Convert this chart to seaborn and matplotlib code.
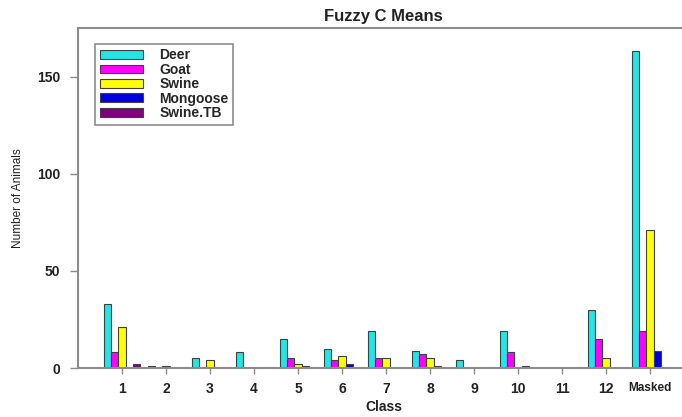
import matplotlib
matplotlib.use("Agg")
import matplotlib.pyplot as plt
import seaborn as sns
import pandas as pd

classes = ["1", "2", "3", "4", "5", "6", "7", "8", "9", "10", "11", "12", "Masked"]
deer     = [33, 1, 5, 8, 15, 10, 19, 9, 4, 19, 0, 30, 163]
goat     = [8, 0, 0, 0, 5, 4, 5, 7, 0, 8, 0, 15, 19]
swine    = [21, 1, 4, 0, 2, 6, 5, 5, 0, 0, 0, 5, 71]
mongoose = [0, 0, 0, 0, 1, 2, 0, 1, 0, 1, 0, 0, 9]
swine_tb = [2, 0, 0, 0, 0, 0, 0, 0, 0, 0, 0, 0, 0]
species = ["Deer", "Goat", "Swine", "Mongoose", "Swine.TB"]
colors = ["#20E6E6", "#FF00FF", "#FFFF00", "#0000E0", "#800080"]
yticks = [0, 50, 100, 150]

rows = []
for name, vals in zip(species, [deer, goat, swine, mongoose, swine_tb]):
    for c, v in zip(classes, vals):
        rows.append({"Class": c, "Species": name, "Count": v})
df = pd.DataFrame(rows)

sns.set_theme(style="white")
plt.rcParams['font.family'] = ['Liberation Sans', 'DejaVu Sans']

fig = plt.figure(figsize=(6.82, 4.17), dpi=100)
ax = fig.add_axes([78/682, 1 - 368/417, 611.6/682, 340/417])

sns.barplot(data=df, x="Class", y="Count", hue="Species", order=classes,
            hue_order=species, palette=colors, width=5/6, dodge=True,
            edgecolor="#404040", linewidth=0.8, saturation=1, ax=ax, errorbar=None)

ax.set_xlim(-1.0, 12.9)
ax.set_ylim(0, 175)
ax.set_yticks(yticks)
ax.set_yticklabels([str(t) for t in yticks], fontsize=10, fontweight="bold", color="#222222")
ax.set_xticks(range(len(classes)))
ax.set_xticklabels(classes, fontsize=10, fontweight="bold", color="#222222")
for lbl in ax.get_xticklabels():
    if lbl.get_text() == "Masked":
        lbl.set_fontsize(8.5)

for s in ax.spines.values():
    s.set_color("#8c8c8c")
    s.set_linewidth(1.5)
    s.set_visible(True)
ax.tick_params(axis="y", length=6, width=1, color="#8c8c8c", pad=7, left=True)
ax.tick_params(axis="x", length=4, width=1, color="#8c8c8c", pad=6, bottom=True)

ax.set_xlabel("Class", fontsize=10, fontweight="bold", color="#222222", labelpad=3)
ax.set_ylabel("Number of Animals", fontsize=8.5, color="#222222", labelpad=9)
ax.set_title("Fuzzy C Means", fontsize=12, fontweight="bold", color="#222222", pad=5)

handles, labels = ax.get_legend_handles_labels()
ax.legend(handles, labels, loc="upper left", bbox_to_anchor=(0.028, 0.953),
          borderaxespad=0, frameon=True, fancybox=False, edgecolor="#8c8c8c",
          framealpha=1, handlelength=3.1, handleheight=0.58, labelspacing=0.03,
          handletextpad=1.2, borderpad=0.32, prop={"size": 10, "weight": "bold"},
          title=None)
ax.get_legend().get_frame().set_linewidth(1.2)

fig.savefig("out.png", dpi=100)
